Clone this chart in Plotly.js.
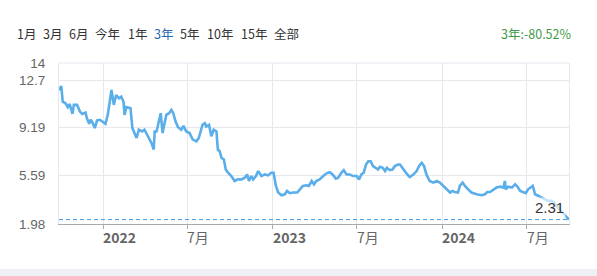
<!DOCTYPE html>
<html><head><meta charset="utf-8">
<script src="https://cdn.plot.ly/plotly-3.0.1.min.js"></script>
<style>html,body{margin:0;padding:0;background:#fff;}#chart{width:597px;height:276px;}</style>
</head><body><div id="chart"></div>
<script>
const dates = ["2021-09-28","2021-10-03","2021-10-06","2021-10-12","2021-10-17","2021-10-21","2021-10-27","2021-10-30","2021-11-06","2021-11-12","2021-11-17","2021-11-24","2021-11-27","2021-12-02","2021-12-05","2021-12-09","2021-12-14","2021-12-19","2021-12-25","2022-01-01","2022-01-06","2022-01-11","2022-01-19","2022-01-24","2022-01-29","2022-02-04","2022-02-09","2022-02-14","2022-02-16","2022-02-20","2022-02-26","2022-03-01","2022-03-05","2022-03-10","2022-03-14","2022-03-19","2022-03-26","2022-03-31","2022-04-04","2022-04-10","2022-04-15","2022-04-20","2022-04-22","2022-04-26","2022-05-01","2022-05-05","2022-05-09","2022-05-13","2022-05-17","2022-05-23","2022-05-28","2022-06-01","2022-06-06","2022-06-11","2022-06-18","2022-06-23","2022-06-29","2022-07-06","2022-07-13","2022-07-21","2022-07-26","2022-08-03","2022-08-08","2022-08-11","2022-08-17","2022-08-22","2022-08-27","2022-09-02","2022-09-05","2022-09-09","2022-09-13","2022-09-18","2022-09-22","2022-09-27","2022-10-04","2022-10-11","2022-10-18","2022-10-26","2022-11-02","2022-11-07","2022-11-11","2022-11-16","2022-11-20","2022-11-26","2022-12-01","2022-12-08","2022-12-15","2022-12-22","2022-12-29","2023-01-03","2023-01-08","2023-01-13","2023-01-20","2023-01-27","2023-02-01","2023-02-07","2023-02-14","2023-02-23","2023-02-28","2023-03-07","2023-03-15","2023-03-20","2023-03-26","2023-03-31","2023-04-05","2023-04-12","2023-04-20","2023-04-27","2023-05-04","2023-05-10","2023-05-17","2023-05-22","2023-05-29","2023-06-03","2023-06-09","2023-06-16","2023-06-23","2023-07-01","2023-07-06","2023-07-11","2023-07-16","2023-07-21","2023-07-26","2023-07-31","2023-08-05","2023-08-11","2023-08-16","2023-08-20","2023-08-26","2023-08-31","2023-09-04","2023-09-10","2023-09-16","2023-09-21","2023-09-28","2023-10-02","2023-10-09","2023-10-16","2023-10-23","2023-10-31","2023-11-07","2023-11-12","2023-11-18","2023-11-23","2023-11-28","2023-12-05","2023-12-13","2023-12-20","2023-12-27","2024-01-03","2024-01-10","2024-01-18","2024-01-23","2024-01-28","2024-02-04","2024-02-08","2024-02-14","2024-02-19","2024-02-26","2024-03-04","2024-03-15","2024-03-26","2024-04-02","2024-04-07","2024-04-13","2024-04-20","2024-04-27","2024-05-05","2024-05-12","2024-05-15","2024-05-17","2024-05-22","2024-05-30","2024-06-06","2024-06-11","2024-06-17","2024-06-22","2024-06-29","2024-07-04","2024-07-14","2024-07-19","2024-07-26","2024-08-02","2024-08-09","2024-08-16","2024-08-24","2024-08-29","2024-09-03","2024-09-10","2024-09-17","2024-09-24","2024-09-30"];
const values = [11.98,12.28,11.11,10.99,10.70,10.94,10.20,10.87,10.87,10.37,10.20,10.30,9.88,9.46,9.76,9.56,9.14,9.71,9.76,9.56,9.46,10.13,11.98,10.87,11.61,11.37,11.48,11.11,10.13,10.70,10.62,10.62,9.14,8.77,8.40,9.02,8.89,9.02,8.77,8.40,8.03,7.54,8.89,8.89,9.76,10.25,8.77,9.39,10.13,10.25,10.50,10.25,9.63,9.22,9.02,9.31,8.89,8.77,8.28,8.15,8.40,9.39,9.51,9.26,9.39,8.53,9.02,8.89,7.54,7.41,6.92,6.80,6.05,5.81,5.56,5.19,5.31,5.31,5.44,5.68,5.19,5.56,5.31,5.56,5.93,5.56,5.68,5.61,5.81,5.81,4.82,4.33,4.13,4.20,4.45,4.28,4.33,4.33,4.57,4.82,4.87,4.82,5.19,4.94,5.19,5.31,5.56,5.76,5.85,5.68,5.37,5.44,5.81,6.00,5.68,5.68,5.56,5.56,5.31,5.68,5.81,6.42,6.67,6.67,6.30,6.18,6.05,6.25,6.18,5.93,6.18,6.00,6.05,6.30,6.42,6.42,6.05,5.76,5.48,5.68,5.93,6.30,6.55,6.30,5.68,5.19,5.07,5.19,5.07,4.82,4.57,4.33,4.45,4.37,4.33,4.82,5.07,4.82,4.57,4.33,4.20,4.13,4.20,4.37,4.37,4.57,4.70,4.77,4.70,5.19,4.57,4.77,4.70,4.94,4.77,4.45,4.37,4.28,4.57,4.82,4.20,4.08,3.96,3.83,3.71,3.71,3.59,3.34,3.09,2.85,2.60,2.31];
const lastValue = 2.31;
const lastLabel = "2.31";
const yTickVals = [1.98, 5.59, 9.19, 12.7, 14];
const yTickText = ["1.98", "5.59", "9.19", "12.7", "14"];
const xTickDates = ["2022-01-01","2022-07-01","2023-01-01","2023-07-01","2024-01-01","2024-07-01"];
const xTickLabels = ["2022","7月","2023","7月","2024","7月"];
const rangeButtons = ["1月","3月","6月","今年","1年","3年","5年","10年","15年","全部"];
const rangeButtonX = [15, 40.7, 66.7, 93.3, 126, 151.7, 178.3, 205, 239, 271.7];
const activeButton = "3年";
const changeText = "3年:-80.52%";
const xRange = ["2021-09-28","2024-09-30"];

const FONT = "'Liberation Sans', Arial, 'Noto Sans CJK SC', sans-serif";
const CJK = "'Noto Sans CJK SC', 'Liberation Sans', sans-serif";
const lineColor = "#5aaeea";

const annotations = [];
xTickDates.forEach((d, i) => {
  const isYear = /^\d{4}$/.test(xTickLabels[i]);
  annotations.push({
    x: d, xref: 'x', y: 0, yref: 'paper', yanchor: 'top', xanchor: 'left',
    text: isYear ? '<b>' + xTickLabels[i] + '</b>' : xTickLabels[i],
    showarrow: false, xshift: -2, yshift: -1,
    font: {family: CJK, size: 14, color: '#666'}
  });
});
rangeButtons.forEach((b, i) => {
  annotations.push({
    x: rangeButtonX[i], xref: 'paper', y: 33, yref: 'paper',
    text: b, showarrow: false, xanchor: 'left', yanchor: 'middle',
    font: {family: CJK, size: 12.5, color: b === activeButton ? '#2a6bb5' : '#333'}
  });
});
annotations.push({
  x: 1, xref: 'paper', y: 33, yref: 'paper', xanchor: 'right', yanchor: 'middle',
  text: changeText, showarrow: false, xshift: 4,
  font: {family: CJK, size: 12.5, color: '#3f9a48'}
});
annotations.push({
  x: 1, xref: 'paper', y: lastValue, yref: 'y', xanchor: 'right', yanchor: 'bottom',
  text: lastLabel, showarrow: false, xshift: -3, yshift: 2,
  bgcolor: 'rgba(255,255,255,0.65)', borderpad: 1,
  font: {family: FONT, size: 15, color: '#333'}
});

const W = 597, H = 276, L = 59, R = 28, T = 63, B = 52;
const pw = W - L - R, ph = H - T - B;
annotations.forEach(a => {
  if (a.xref === 'paper' && a.x > 2) a.x = (a.x - L) / pw;
  if (a.yref === 'paper' && a.y > 2) a.y = (H - B - a.y) / ph;
});

const data = [{
  x: dates, y: values, type: 'scatter', mode: 'lines',
  line: {color: lineColor, width: 2.6}, hoverinfo: 'skip'
}];

const layout = {
  width: W, height: H,
  margin: {l: L, r: R, t: T, b: B, pad: 0},
  paper_bgcolor: '#fff', plot_bgcolor: '#fff',
  showlegend: false,
  font: {family: FONT},
  xaxis: {
    type: 'date', range: xRange, tickvals: xTickDates, showticklabels: false,
    showgrid: true, gridcolor: '#e6e8ee', gridwidth: 1,
    showline: true, linecolor: '#aaa', linewidth: 1,
    ticks: 'outside', ticklen: 4, tickcolor: '#aaa', zeroline: false, fixedrange: true
  },
  yaxis: {
    range: [1.98, 14], tickvals: yTickVals, ticktext: yTickText,
    showgrid: true, gridcolor: '#e6e8ee', gridwidth: 1,
    showline: true, mirror: true, linecolor: '#e6e8ee', linewidth: 1,
    ticks: '', ticklabelstandoff: 10, zeroline: false,
    tickfont: {family: FONT, size: 13.5, color: '#666'}, fixedrange: true
  },
  shapes: [
    {type: 'line', xref: 'paper', x0: 0, x1: 1, yref: 'y', y0: lastValue, y1: lastValue,
     line: {color: '#3d9be6', width: 1, dash: '4px,3px'}, layer: 'above'},
    {type: 'line', xref: 'paper', x0: 0, x1: 1, yref: 'paper', y0: 1, y1: 1,
     line: {color: '#e6e8ee', width: 1}, layer: 'below'},
    {type: 'rect', xref: 'paper', x0: -L / pw, x1: 1 + R / pw, yref: 'paper',
     y0: -(269 - (H - B)) / ph, y1: -B / ph, fillcolor: '#eef0f3', line: {width: 0}, layer: 'below'}
  ],
  annotations: annotations
};
Plotly.newPlot('chart', data, layout, {displayModeBar: false, staticPlot: true});
</script></body></html>
